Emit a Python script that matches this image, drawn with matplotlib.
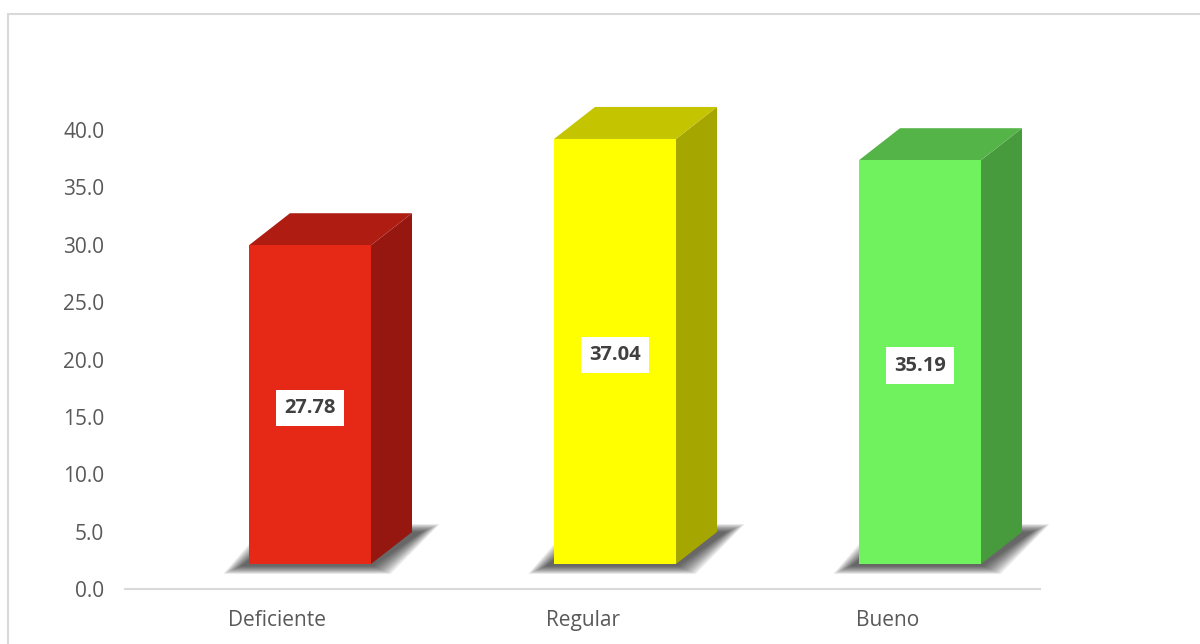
import matplotlib.pyplot as plt
from matplotlib.patches import Polygon, Rectangle

categories = ["Deficiente", "Regular", "Bueno"]
values = [27.78, 37.04, 35.19]
front_colors = ["#E62817", "#FFFF00", "#70F25E"]
top_colors = ["#AE1C12", "#C4C400", "#55B448"]
side_colors = ["#961710", "#A6A600", "#489B3C"]
yticks = [0, 5, 10, 15, 20, 25, 30, 35, 40]

plt.rcParams['font.family'] = ['Open Sans', 'DejaVu Sans']

fig = plt.figure(figsize=(12, 6.44), dpi=100)
W, H = 1200, 644

# axes placed so that 0 -> y px 589, 40 -> y px 130
ax_left, ax_right = 125, 1040
ax_bottom, ax_top = 589, 14
ppu_y = (589 - 130) / 40.0
ax = fig.add_axes([ax_left / W, 1 - ax_bottom / H,
                   (ax_right - ax_left) / W, (ax_bottom - ax_top) / H])
ax.set_xlim(-0.5, 2.5)
ax.set_ylim(0, (ax_bottom - ax_top) / ppu_y)
ppu_x = (ax_right - ax_left) / 3.0

# bar geometry in data units (converted from pixels)
px = 1.0 / ppu_x
py = 1.0 / ppu_y
off_left = 28.5 * px
width = 122 * px
dx = 41 * px
dy = 32 * py
base = 25 * py

for i, (cat, v) in enumerate(zip(categories, values)):
    L = i - off_left
    R = L + width
    b = base
    t = base + v

    # soft shadow under the base: stacked translucent layers
    n = 24
    for k in range(n, -1, -1):
        p = k * 0.75
        shadow = Polygon([(L - (8 + p) * px, b - (2 + 0.45 * p) * py),
                          (R + (2 + p) * px, b - (2 + 0.45 * p) * py),
                          (R + dx + (10 + p) * px, b + dy + (0 + 0.45 * p) * py),
                          (L + dx - (6 + p) * px, b + dy + (0 + 0.45 * p) * py)],
                         closed=True, facecolor="#1a1a1a", edgecolor="none",
                         alpha=0.04, zorder=1, clip_on=False)
        ax.add_patch(shadow)

    side = Polygon([(R, b), (R + dx, b + dy), (R + dx, t + dy), (R, t)],
                   closed=True, facecolor=side_colors[i], edgecolor="none",
                   zorder=2, clip_on=False)
    top = Polygon([(L, t), (R, t), (R + dx, t + dy), (L + dx, t + dy)],
                  closed=True, facecolor=top_colors[i], edgecolor="none",
                  zorder=2, clip_on=False)
    front = Rectangle((L, b), width, v, facecolor=front_colors[i],
                      edgecolor="none", zorder=3, clip_on=False)
    ax.add_patch(side)
    ax.add_patch(top)
    ax.add_patch(front)

    ax.text(L + width / 2, b + v / 2 - 0.3, f"{v:.2f}", ha="center", va="center",
            fontsize=14.5, fontweight="bold", color="#404040", zorder=5,
            bbox=dict(boxstyle="square,pad=0.4", facecolor="white", edgecolor="none"))

ax.set_xticks(range(len(categories)))
ax.set_xticklabels(categories)
ax.set_yticks(yticks)
ax.set_yticklabels([f"{t:.1f}" for t in yticks])
ax.tick_params(axis="both", length=0, labelsize=15, colors="#595959")
ax.tick_params(axis="y", pad=15)
ax.tick_params(axis="x", pad=15)
for s in ["top", "right", "left"]:
    ax.spines[s].set_visible(False)
ax.spines["bottom"].set_color("#D9D9D9")
ax.spines["bottom"].set_linewidth(1.5)
ax.patch.set_alpha(0)

# chart border (light gray), running off the right and bottom edges
border = Rectangle((8 / W, -0.1), 1.2, 1 - 14 / H + 0.1, transform=fig.transFigure,
                   facecolor="none", edgecolor="#D9D9D9", linewidth=1.5, zorder=0)
fig.patches.append(border)

fig.savefig("out.png", dpi=100)
